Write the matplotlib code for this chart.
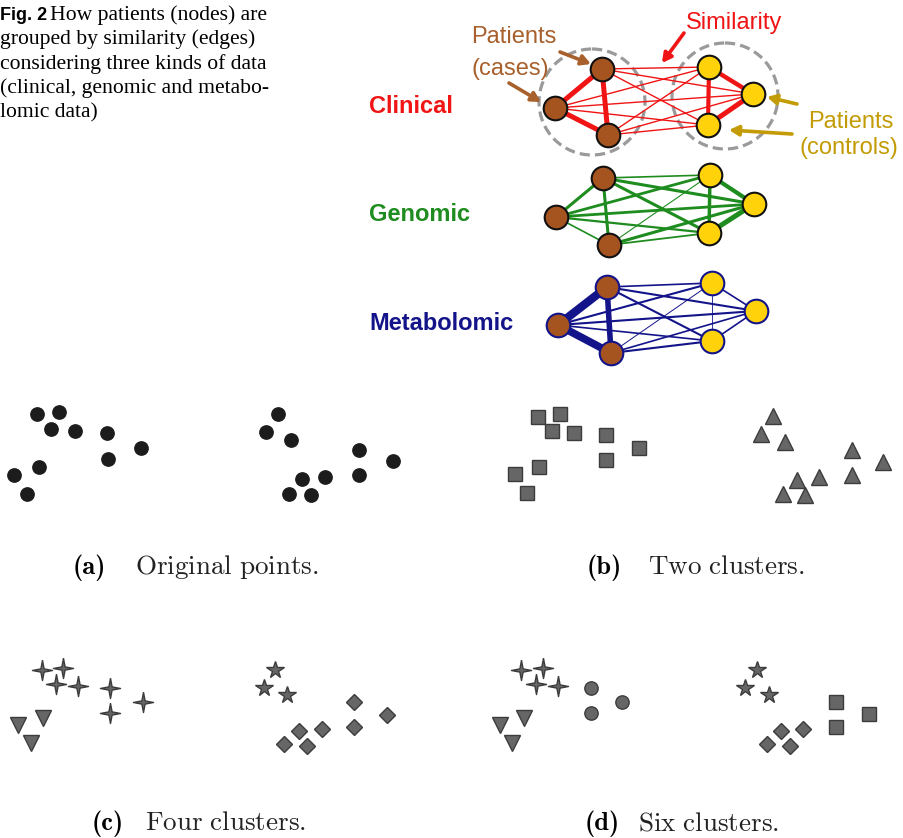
import numpy as np
import matplotlib
matplotlib.use("Agg")
import matplotlib.pyplot as plt
from matplotlib.patches import Circle
from matplotlib.path import Path

plt.rcParams["mathtext.fontset"] = "cm"

# ---- network part: node positions (pixels) for each data layer ----
# order: case top, case left, case bottom, control top, control right, control bottom
clinical_x = [602, 555, 608, 709, 753, 708]
clinical_y = [69, 108, 135, 67, 94, 125]
genomic_x = [603, 556, 609, 710, 754, 709]
genomic_y = [178, 217, 245, 175, 204, 233]
metabolomic_x = [607, 558, 611, 712, 756, 712]
metabolomic_y = [287, 325, 353, 283, 311, 341]

edge_pairs = [(0, 1), (1, 2), (0, 2), (3, 4), (4, 5), (3, 5),
              (0, 3), (0, 4), (0, 5), (1, 3), (1, 4), (1, 5), (2, 3), (2, 4), (2, 5)]
clinical_w = [3.6, 3.6, 3.6, 3.2, 3.6, 3.0, 1, 1, 1, 1, 1, 1, 1, 1, 1]
genomic_w = [2.2, 1.2, 2.2, 3.0, 3.6, 2.5, 1.2, 2.2, 2.2, 2.0, 2.0, 1.6, 0.8, 2.2, 1.3]
metabolomic_w = [6.0, 5.5, 4.0, 1.2, 1.2, 0.6, 1.2, 1.5, 1.5, 1.5, 1.5, 1.2, 0.7, 1.2, 1.5]

layer_names = ["Clinical", "Genomic", "Metabolomic"]
layer_colors = ["#F01414", "#1E8C1E", "#14148A"]
node_edge_colors = ["#111111", "#111111", "#14148A"]

# ---- clustering example points (pixels) ----
a_left_x = [37, 59, 51, 75, 107, 141, 108, 39, 14, 27]
a_left_y = [414, 412, 429, 431, 433, 448, 459, 467, 475, 494]
a_right_x = [278, 266, 291, 359, 393, 359, 325, 302, 289, 311]
a_right_y = [414, 432, 440, 450, 461, 475, 477, 479, 494, 495]

b_sq_x = [538, 560, 552, 574, 606, 639, 606, 539, 515, 527]
b_sq_y = [417, 414, 431, 433, 435, 448, 460, 467, 474, 493]
b_tri_x = [773, 761, 785, 852, 883, 852, 819, 797, 783, 805]
b_tri_y = [416, 434, 442, 450, 462, 475, 477, 480, 494, 495]

c_star4_x = [42, 63, 56, 78, 110, 143, 110]
c_star4_y = [670, 668, 684, 686, 688, 702, 713]
c_tri_x = [18, 43, 31]
c_tri_y = [725, 718, 743]
c_star5_x = [275, 264, 287]
c_star5_y = [670, 688, 695]
c_dia_x = [354, 387, 354, 322, 299, 284, 307]
c_dia_y = [702, 715, 727, 729, 731, 744, 746]

d_star4_x = [521, 543, 536, 558]
d_star4_y = [670, 668, 684, 686]
d_circ_x = [591, 622, 591]
d_circ_y = [688, 702, 713]
d_tri_x = [500, 524, 512]
d_tri_y = [725, 718, 743]
d_star5_x = [757, 745, 769]
d_star5_y = [670, 688, 695]
d_sq_x = [836, 869, 836]
d_sq_y = [702, 714, 727]
d_dia_x = [803, 781, 767, 790]
d_dia_y = [729, 731, 744, 746]

caption_lines = ["How patients (nodes) are",
                 "grouped by similarity (edges)",
                 "considering three kinds of data",
                 "(clinical, genomic and metabo-",
                 "lomic data)"]

fig = plt.figure(figsize=(9.04, 8.38), dpi=100)
ax = fig.add_axes([0, 0, 1, 1])
ax.set_xlim(0, 904)
ax.set_ylim(838, 0)
ax.axis("off")

# figure caption
ax.text(0, 20, "Fig. 2", fontsize=13, fontweight="bold", family="Liberation Sans", va="baseline")
caption_x = [50, 0, 0, 0, 0]
for i, line in enumerate(caption_lines):
    ax.text(caption_x[i], 20 + 24.3 * i, line, fontsize=15.6, family="Liberation Serif", va="baseline")

# dashed group circles (clinical layer)
for cx, cy in [(592, 102), (725, 96)]:
    ax.add_patch(Circle((cx, cy), 53, fill=False, ec="#9A9A9A", lw=2.3,
                        ls=(0, (3.2, 1.6)), zorder=1))

layers = [(clinical_x, clinical_y, clinical_w),
          (genomic_x, genomic_y, genomic_w),
          (metabolomic_x, metabolomic_y, metabolomic_w)]
label_base = [113, 221, 330]
for k, (xs, ys, ws) in enumerate(layers):
    for (i, j), w in zip(edge_pairs, ws):
        ax.plot([xs[i], xs[j]], [ys[i], ys[j]], color=layer_colors[k], lw=w,
                solid_capstyle="round", zorder=2)
    ax.plot(xs[:3], ys[:3], "o", ms=17, mfc="#A5531F", mec=node_edge_colors[k], mew=1.5, zorder=3)
    ax.plot(xs[3:], ys[3:], "o", ms=17, mfc="#FFD20A", mec=node_edge_colors[k], mew=1.5, zorder=3)
    ax.text(369, label_base[k], layer_names[k], color=layer_colors[k], fontsize=17,
            fontweight="bold", family="Liberation Sans", va="baseline")

# annotations
brown = "#A8602C"
gold = "#C39B05"
ax.text(471, 43, "Patients", color=brown, fontsize=17, family="Liberation Sans", va="baseline")
ax.text(472, 75, "(cases)", color=brown, fontsize=17, family="Liberation Sans", va="baseline")
ax.text(686, 29, "Similarity", color="#F01414", fontsize=17, family="Liberation Sans", va="baseline")
ax.text(808, 128, "Patients", color=gold, fontsize=17, family="Liberation Sans", va="baseline")
ax.text(800, 154, "(controls)", color=gold, fontsize=17, family="Liberation Sans", va="baseline")

arrows = [((560, 52), (591, 64), brown), ((509, 83), (541, 102), brown),
          ((684, 33), (662, 63), "#F01414"),
          ((797, 104), (767, 97), gold), ((792, 134), (729, 130), gold)]
for start, tip, col in arrows:
    ax.annotate("", xy=tip, xytext=start,
                arrowprops=dict(arrowstyle="-|>,head_length=0.55,head_width=0.3",
                                color=col, lw=2.6, shrinkA=0, shrinkB=0), zorder=4)

# clustering examples
ax.plot(a_left_x, a_left_y, "o", ms=9.6, color="#1C1C1C")
ax.plot(a_right_x, a_right_y, "o", ms=9.6, color="#1C1C1C")

gray = dict(mfc="#666666", mec="#3C3C3C", mew=1.0, ls="none")
ax.plot(b_sq_x, b_sq_y, "s", ms=10, **gray)
ax.plot(b_tri_x, b_tri_y, "^", ms=11, **gray)

star4 = Path([(0, 1), (0.16, 0.16), (1, 0), (0.16, -0.16), (0, -1),
              (-0.16, -0.16), (-1, 0), (-0.16, 0.16), (0, 1)])
ax.plot(c_star4_x, c_star4_y, marker=star4, ms=14.5, **gray)
ax.plot(c_tri_x, c_tri_y, "v", ms=11, **gray)
ax.plot(c_star5_x, c_star5_y, "*", ms=13, **gray)
ax.plot(c_dia_x, c_dia_y, "D", ms=8.6, **gray)

ax.plot(d_star4_x, d_star4_y, marker=star4, ms=14.5, **gray)
ax.plot(d_circ_x, d_circ_y, "o", ms=9.6, **gray)
ax.plot(d_tri_x, d_tri_y, "v", ms=11, **gray)
ax.plot(d_star5_x, d_star5_y, "*", ms=13, **gray)
ax.plot(d_sq_x, d_sq_y, "s", ms=10, **gray)
ax.plot(d_dia_x, d_dia_y, "D", ms=8.6, **gray)

# sub-captions
subcaps = [(73, 135, 574, "a", "Original points."), (587, 648, 574, "b", "Two clusters."),
           (92, 145, 830, "c", "Four clusters."), (585, 638, 830, "d", "Six clusters.")]
for xl, xt, yb, letter, txt in subcaps:
    ax.text(xl, yb, "(" + letter + ")", fontsize=19, family="cmb10", va="baseline")
    ax.text(xt, yb, r"$\mathrm{" + txt.replace(" ", r"\ ") + r"}$", fontsize=19.5,
            va="baseline", color="#222222")

fig.savefig("out.png", dpi=100)
